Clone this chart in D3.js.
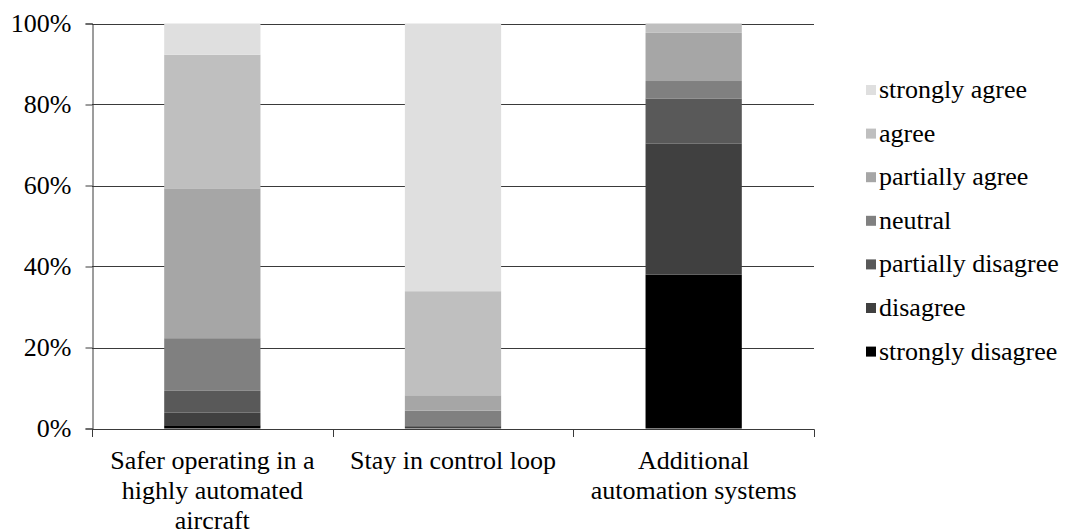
<!DOCTYPE html>
<html>
<head>
<meta charset="utf-8">
<script src="https://cdn.jsdelivr.net/npm/d3@7"></script>
<style>
  html, body { margin: 0; padding: 0; background: #fff; }
  svg { display: block; }
</style>
</head>
<body>
<svg id="chart" width="1065" height="531"></svg>
<script>
// Survey items (x categories)
const categories = [
  "Safer operating in a highly automated aircraft",
  "Stay in control loop",
  "Additional automation systems"
];

// Response shares in percent, one array per answer level
const stronglyDisagree  = [0.8, 0.0, 38.0];
const disagree          = [3.1, 0.4, 32.4];
const partiallyDisagree = [5.4, 0.4, 11.1];
const neutral           = [13.0, 3.6, 4.3];
const partiallyAgree    = [37.0, 3.8, 11.9];
const agree             = [33.0, 25.7, 2.3];
const stronglyAgree     = [7.7, 66.1, 0.0];

// Stacking order, bottom to top
const seriesNames = [
  "strongly disagree", "disagree", "partially disagree", "neutral",
  "partially agree", "agree", "strongly agree"
];
const seriesValues = [
  stronglyDisagree, disagree, partiallyDisagree, neutral,
  partiallyAgree, agree, stronglyAgree
];
const seriesColors = [
  "#000000", "#404040", "#595959", "#808080",
  "#a6a6a6", "#bfbfbf", "#dfdfdf"
];

const yTicks = [0, 0.2, 0.4, 0.6, 0.8, 1.0];

const FONT = "'Liberation Serif', serif";
const FONT_SIZE = "26px";

const svg = d3.select("#chart");
const plot = { left: 92, right: 814, top: 23.5, bottom: 428.5 };

const x = d3.scaleBand()
  .domain(categories)
  .range([plot.left, plot.right])
  .paddingInner(0.6)
  .paddingOuter(0.3);

const y = d3.scaleLinear()
  .domain([0, 1])
  .range([plot.bottom, plot.top]);

// Table for d3.stack built from the series arrays
const table = categories.map((c, i) => {
  const row = { category: c };
  seriesNames.forEach((s, k) => { row[s] = seriesValues[k][i] / 100; });
  return row;
});
const stacked = d3.stack().keys(seriesNames)(table);

// Horizontal gridlines
svg.append("g")
  .selectAll("line")
  .data(yTicks.filter(t => t > 0))
  .join("line")
  .attr("x1", plot.left)
  .attr("x2", plot.right)
  .attr("y1", d => Math.round(y(d)) + 0.5)
  .attr("y2", d => Math.round(y(d)) + 0.5)
  .attr("stroke", "#3a3a3a")
  .attr("stroke-width", 1);

// Stacked bars
svg.append("g")
  .selectAll("g")
  .data(stacked)
  .join("g")
  .attr("fill", (d, k) => seriesColors[k])
  .selectAll("rect")
  .data(d => d)
  .join("rect")
  .attr("x", d => x(d.data.category))
  .attr("width", x.bandwidth())
  .attr("y", d => y(d[1]))
  .attr("height", d => Math.max(0, y(d[0]) - y(d[1])));

// Y axis
const yAxis = svg.append("g")
  .attr("transform", `translate(${plot.left + 0.5},0)`)
  .call(d3.axisLeft(y).tickValues(yTicks).tickFormat(d3.format(".0%")).tickSize(7).tickPadding(14));
yAxis.attr("font-family", null).attr("font-size", null);
yAxis.select(".domain").attr("stroke", "#3a3a3a");
yAxis.selectAll(".tick line").attr("stroke", "#3a3a3a");
yAxis.selectAll(".tick text")
  .style("font-family", FONT)
  .style("font-size", FONT_SIZE)
  .attr("fill", "#000");

// X axis: baseline plus ticks on the category boundaries
const xg = svg.append("g");
xg.append("line")
  .attr("x1", plot.left).attr("x2", plot.right + 0.5)
  .attr("y1", Math.round(y(0)) + 0.5).attr("y2", Math.round(y(0)) + 0.5)
  .attr("stroke", "#3a3a3a");
const boundaries = d3.range(categories.length + 1).map(i => plot.left + i * (plot.right - plot.left) / categories.length);
xg.selectAll("line.tick")
  .data(boundaries)
  .join("line")
  .attr("class", "tick")
  .attr("x1", d => Math.round(d) + 0.5)
  .attr("x2", d => Math.round(d) + 0.5)
  .attr("y1", Math.round(y(0)) + 0.5)
  .attr("y2", Math.round(y(0)) + 8)
  .attr("stroke", "#3a3a3a");

// Category labels, wrapped to the band width
const labels = xg.selectAll("text.cat")
  .data(categories)
  .join("text")
  .attr("class", "cat")
  .attr("text-anchor", "middle")
  .style("font-family", FONT)
  .style("font-size", FONT_SIZE)
  .attr("fill", "#000")
  .attr("x", d => x(d) + x.bandwidth() / 2)
  .attr("y", 469);

labels.each(function(d) {
  const el = d3.select(this);
  const words = d.split(" ");
  const maxW = 225;
  const lines = [];
  let line = [];
  const probe = el.append("tspan");
  words.forEach(w => {
    const trial = line.concat([w]).join(" ");
    probe.text(trial);
    if (probe.node().getComputedTextLength() > maxW && line.length) {
      lines.push(line.join(" "));
      line = [w];
    } else {
      line.push(w);
    }
  });
  if (line.length) lines.push(line.join(" "));
  probe.remove();
  const cx = +el.attr("x");
  lines.forEach((t, i) => {
    el.append("tspan").attr("x", cx).attr("dy", i === 0 ? 0 : 30).text(t);
  });
});

// Legend, top entry = top of stack
const legendItems = seriesNames.map((s, k) => ({ name: s, color: seriesColors[k] })).reverse();
const legend = svg.append("g");
const leg = legend.selectAll("g")
  .data(legendItems)
  .join("g")
  .attr("transform", (d, i) => `translate(866, ${90 + i * 43.6})`);
leg.append("rect")
  .attr("x", 0).attr("y", -5)
  .attr("width", 10).attr("height", 10)
  .attr("fill", d => d.color);
leg.append("text")
  .attr("x", 13)
  .attr("y", 8)
  .style("font-family", FONT)
  .style("font-size", FONT_SIZE)
  .attr("fill", "#000")
  .text(d => d.name);
</script>
</body>
</html>
